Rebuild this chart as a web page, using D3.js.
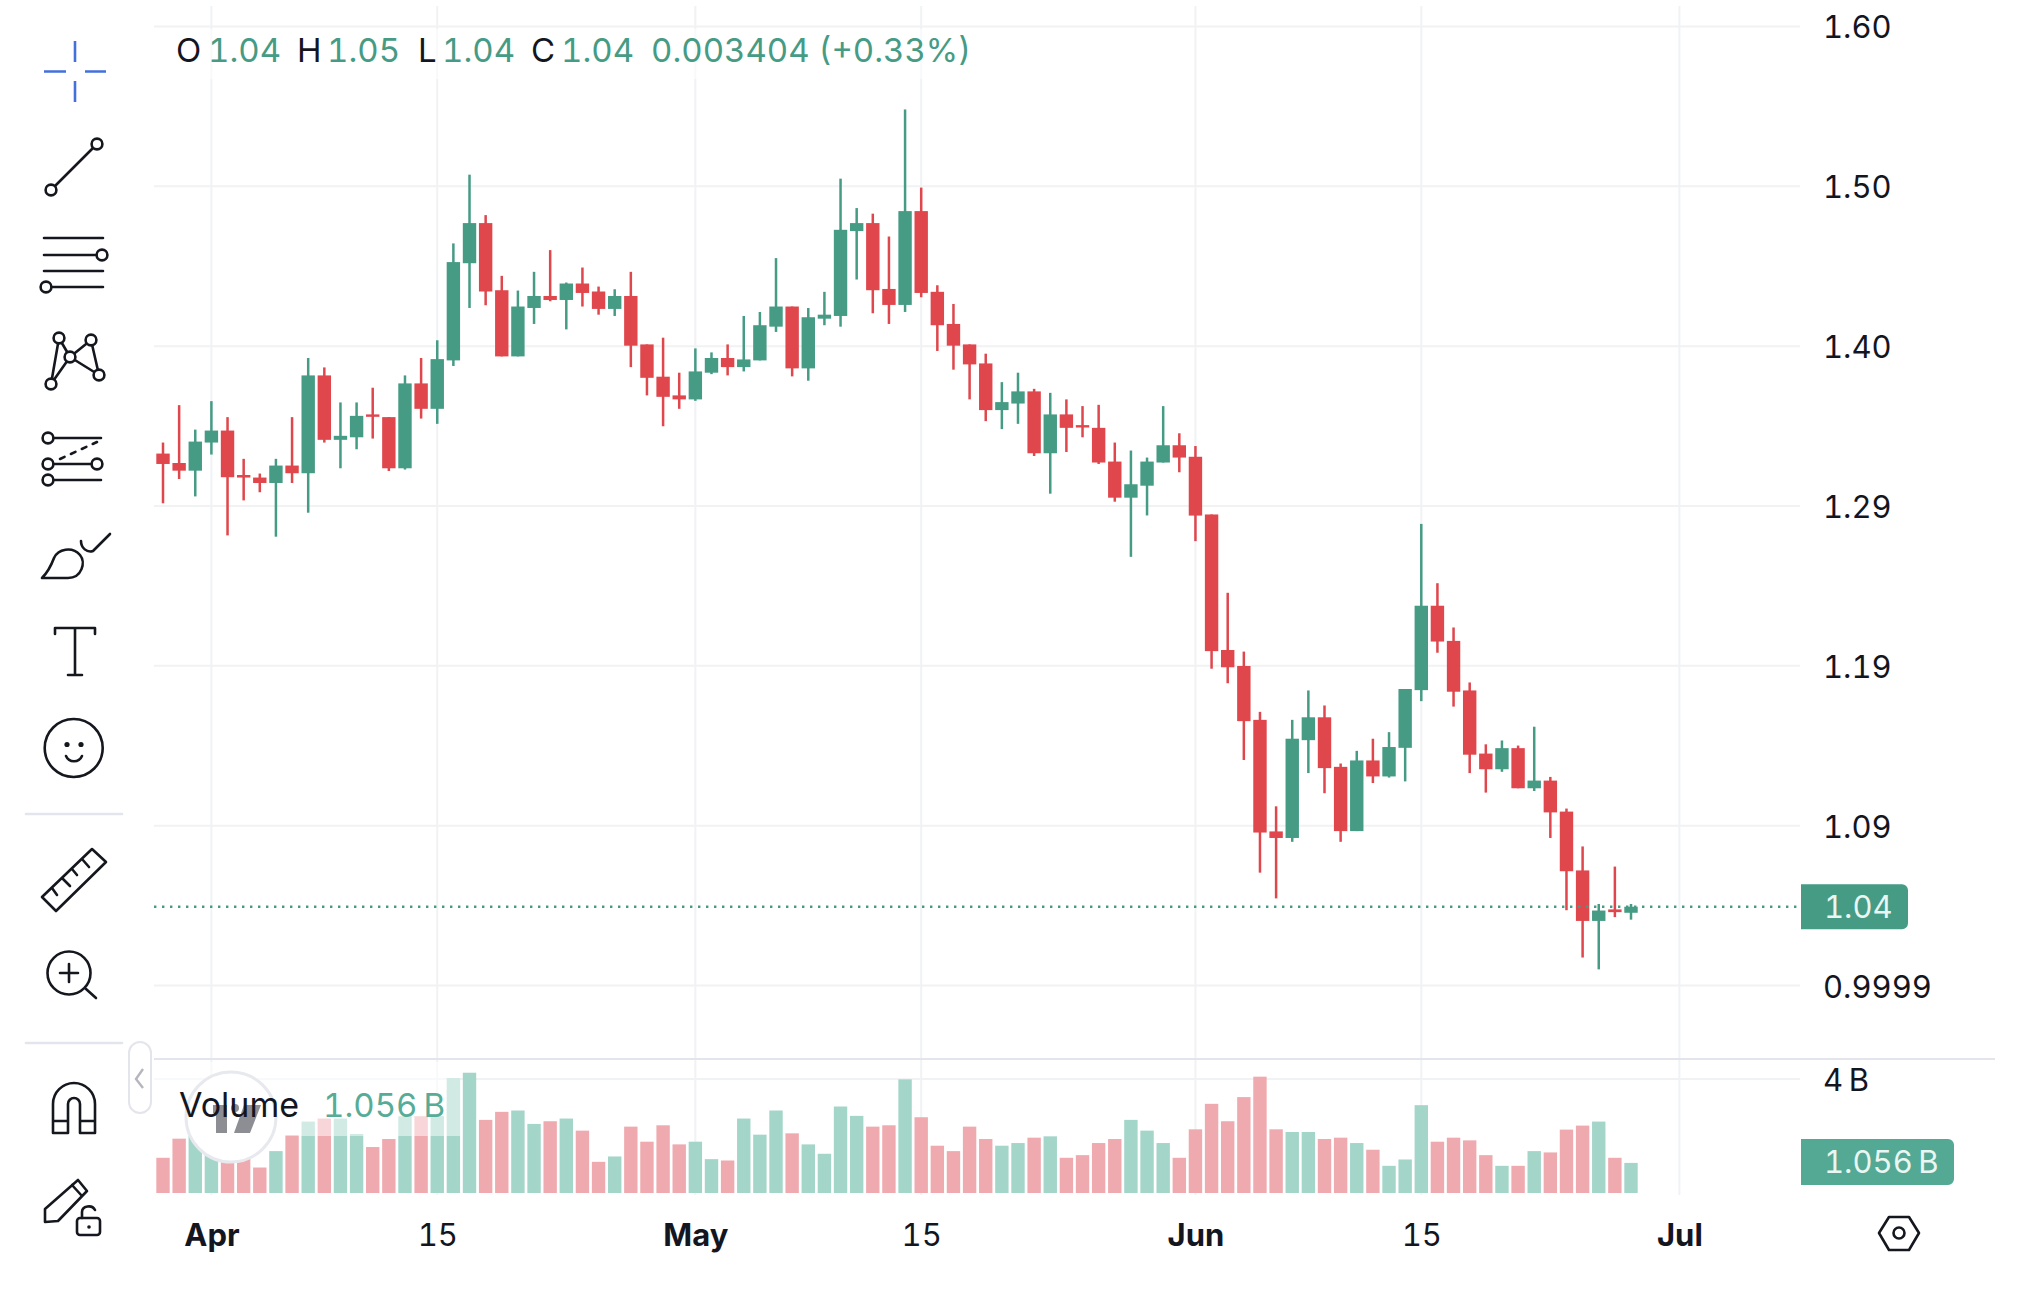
<!DOCTYPE html>
<html>
<head>
<meta charset="utf-8">
<script src="https://cdn.jsdelivr.net/npm/d3@7/dist/d3.min.js"></script>
<style>
html,body{margin:0;padding:0;background:#fff;}
svg{display:block;font-family:Inter,"Noto Sans",sans-serif;font-feature-settings:"tnum" 1;font-variant-numeric:tabular-nums;}
</style>
</head>
<body>
<svg id="chart" width="2030" height="1308"></svg>
<script>
// Daily candles from 29 March to 28 June
const firstDay = new Date(Date.UTC(2023, 2, 29));
const opens = [1.3328,1.3269,1.3221,1.3397,1.3472,1.3194,1.3178,1.3144,1.3253,1.3205,1.3817,1.3414,1.3430,1.3573,1.3556,1.3236,1.3767,1.3608,1.3911,1.4519,1.4770,1.4350,1.3936,1.4239,1.4314,1.4289,1.4392,1.4342,1.4233,1.4314,1.4011,1.3809,1.3692,1.3667,1.3834,1.3926,1.3869,1.3911,1.4122,1.4248,1.3861,1.4172,1.4189,1.4720,1.4770,1.4358,1.4258,1.4845,1.4340,1.4139,1.4011,1.3892,1.3600,1.3641,1.3717,1.3330,1.3573,1.3506,1.3489,1.3278,1.3052,1.3127,1.3272,1.3380,1.3308,1.2947,1.2099,1.1999,1.1662,1.0964,1.0923,1.1535,1.1678,1.1368,1.0966,1.1408,1.1308,1.1487,1.1848,1.2376,1.2156,1.1846,1.1451,1.1353,1.1485,1.1234,1.1282,1.1088,1.0720,1.0404,1.0476,1.0455];
const closes = [1.3263,1.3221,1.3403,1.3472,1.3180,1.3178,1.3144,1.3253,1.3205,1.3817,1.3414,1.3439,1.3564,1.3560,1.3236,1.3767,1.3608,1.3919,1.4526,1.4770,1.4342,1.3936,1.4248,1.4314,1.4289,1.4392,1.4333,1.4233,1.4314,1.4003,1.3802,1.3683,1.3667,1.3842,1.3926,1.3869,1.3917,1.4131,1.4248,1.3861,1.4181,1.4197,1.4728,1.4770,1.4350,1.4258,1.4845,1.4333,1.4131,1.4003,1.3886,1.3600,1.3650,1.3717,1.3330,1.3573,1.3489,1.3493,1.3272,1.3052,1.3136,1.3278,1.3380,1.3303,1.2940,1.2092,1.1991,1.1654,1.0957,1.0923,1.1544,1.1678,1.1360,1.0966,1.1408,1.1308,1.1492,1.1855,1.2376,1.2152,1.1838,1.1444,1.1353,1.1485,1.1234,1.1282,1.1083,1.0715,1.0404,1.0469,1.045896,1.0493];
const highs = [1.3397,1.3631,1.3478,1.3656,1.3556,1.3295,1.3203,1.3295,1.3556,1.3926,1.3867,1.3648,1.3648,1.3740,1.3556,1.3817,1.3926,1.4037,1.4643,1.5073,1.4820,1.4440,1.4348,1.4465,1.4601,1.4398,1.4492,1.4373,1.4356,1.4465,1.4011,1.4053,1.3834,1.3986,1.3961,1.4011,1.4189,1.4214,1.4551,1.4248,1.4239,1.4340,1.5048,1.4864,1.4829,1.4686,1.5481,1.4992,1.4381,1.4264,1.4011,1.3953,1.3775,1.3834,1.3733,1.3708,1.3667,1.3625,1.3633,1.3397,1.3347,1.3303,1.3625,1.3455,1.3375,1.2947,1.2457,1.2089,1.1712,1.1121,1.1662,1.1846,1.1752,1.1389,1.1468,1.1544,1.1585,1.1855,1.2888,1.2517,1.2240,1.1896,1.1509,1.1533,1.1501,1.1619,1.1305,1.1107,1.0870,1.0510,1.0744,1.0510];
const lows = [1.3017,1.3169,1.3060,1.3322,1.2816,1.3035,1.3086,1.2808,1.3144,1.2958,1.3397,1.3236,1.3355,1.3422,1.3219,1.3228,1.3547,1.3514,1.3876,1.4239,1.4256,1.3936,1.3936,1.4139,1.4281,1.4105,1.4248,1.4197,1.4189,1.3869,1.3692,1.3499,1.3608,1.3658,1.3825,1.3817,1.3842,1.3911,1.4089,1.3811,1.3784,1.4131,1.4122,1.4417,1.4206,1.4139,1.4214,1.4306,1.3970,1.3853,1.3667,1.3531,1.3481,1.3514,1.3313,1.3077,1.3338,1.3430,1.3263,1.3027,1.2682,1.2941,1.3272,1.3211,1.2780,1.1982,1.1891,1.1411,1.0706,1.0545,1.0899,1.1329,1.1203,1.0899,1.0966,1.1267,1.1301,1.1277,1.1779,1.2082,1.1745,1.1329,1.1207,1.1337,1.1234,1.1217,1.0923,1.0471,1.0175,1.0101,1.0428,1.0412];
// Traded volume per day, in billions
const volumes = [1.235,1.906,2.0,1.6,1.7,1.5,0.894,1.47,2.035,2.506,2.612,2.612,2.07,1.612,1.894,2.694,2.694,2.7,4.035,4.22,2.565,2.847,2.894,2.424,2.518,2.612,2.188,1.094,1.282,2.329,1.8,2.376,1.706,1.8,1.188,1.141,2.612,2.047,2.894,2.094,1.706,1.376,3.035,2.706,2.329,2.376,3.988,2.659,1.659,1.47,2.329,1.894,1.659,1.753,1.941,1.988,1.235,1.329,1.753,1.894,2.565,2.188,1.753,1.235,2.235,3.129,2.518,3.365,4.082,2.235,2.141,2.141,1.894,1.941,1.753,1.518,0.953,1.176,3.082,1.8,1.941,1.847,1.329,0.953,0.953,1.47,1.424,2.224,2.365,2.506,1.235,1.056];
// Price axis: ticks and the way the feed prints them
const priceTicks = [0.9999,1.0999,1.1999,1.2999,1.40,1.50,1.60];
const priceTickLabels = ["0.9999","1.09","1.19","1.29","1.40","1.50","1.60"];
// Date axis
const dateTicks = [new Date(Date.UTC(2023,3,1)),new Date(Date.UTC(2023,3,15)),new Date(Date.UTC(2023,4,1)),new Date(Date.UTC(2023,4,15)),new Date(Date.UTC(2023,5,1)),new Date(Date.UTC(2023,5,15)),new Date(Date.UTC(2023,6,1))];
const dateTickLabels = ["Apr","15","May","15","Jun","15","Jul"];
const volumeTicks = [4];
const volumeTickLabels = ["4\u2009B"];

const GREEN = "#469b85", RED = "#df474d", GRID = "#f1f2f4", RULE = "#e4e5ec", INK = "#14161f";
const trunc2 = v => (Math.floor(v * 100) / 100).toFixed(2);
const fmtVol = v => v.toFixed(3) + "\u2009B";
const last = opens.length - 1;
const candles = opens.map((o, i) => ({
  date: d3.utcDay.offset(firstDay, i), o, c: closes[i], h: highs[i], l: lows[i], v: volumes[i], up: closes[i] >= o
}));

const svg = d3.select("#chart");
const x = d3.scaleUtc().domain([dateTicks[0], dateTicks[6]]).range([211.4, 1679.4]);
const y = d3.scaleLinear().domain([1.0, 1.6]).range([985.5, 26.5]);
const yVol = d3.scaleLinear().domain([0, 4]).range([1193, 1079]);
const bodyW = 13.4, wickW = 2.5, volW = 13.4;

// Grid
const grid = svg.append("g").attr("stroke", GRID).attr("stroke-width", 2);
grid.selectAll(".v").data(dateTicks).join("line")
  .attr("x1", d => x(d)).attr("x2", d => x(d)).attr("y1", 6).attr("y2", 1195);
grid.selectAll(".h").data([1.0,1.1,1.2,1.3,1.4,1.5,1.6]).join("line")
  .attr("x1", 154).attr("x2", 1800).attr("y1", d => y(d)).attr("y2", d => y(d));
grid.append("line").attr("x1", 154).attr("x2", 1800).attr("y1", yVol(4)).attr("y2", yVol(4));
svg.append("line").attr("x1", 154).attr("x2", 1995).attr("y1", 1059).attr("y2", 1059)
  .attr("stroke", RULE).attr("stroke-width", 2);

// Volume histogram
svg.append("g").selectAll("rect").data(candles).join("rect")
  .attr("x", d => x(d.date) - volW / 2).attr("width", volW)
  .attr("y", d => yVol(d.v)).attr("height", d => yVol(0) - yVol(d.v))
  .attr("fill", d => d.up ? "#a2d4c8" : "#efa8ae").attr("opacity", 0.98);

// Candles
const candle = svg.append("g").selectAll("g").data(candles).join("g");
candle.append("rect")
  .attr("x", d => x(d.date) - wickW / 2).attr("width", wickW)
  .attr("y", d => y(d.h)).attr("height", d => y(d.l) - y(d.h))
  .attr("fill", d => d.up ? GREEN : RED);
candle.append("rect")
  .attr("x", d => x(d.date) - bodyW / 2).attr("width", bodyW)
  .attr("y", d => y(Math.max(d.o, d.c)))
  .attr("height", d => Math.max(2.4, Math.abs(y(d.o) - y(d.c))))
  .attr("fill", d => d.up ? GREEN : RED);

// Last price line
svg.append("line").attr("x1", 154).attr("x2", 1800)
  .attr("y1", y(closes[last])).attr("y2", y(closes[last]))
  .attr("stroke", GREEN).attr("stroke-width", 2.4).attr("stroke-dasharray", "2.4 5.6");

// Axes
const styleAxis = g => {
  g.select(".domain").remove();
  g.selectAll("text").attr("font-family", "Inter").attr("font-size", 31).attr("fill", INK);
};
svg.append("g").attr("transform", "translate(1800,1.5)")
  .call(d3.axisRight(y).tickValues(priceTicks).tickSize(0).tickPadding(23)
    .tickFormat((d, i) => priceTickLabels[i])).call(styleAxis);
svg.append("g").attr("transform", "translate(1800,1.5)")
  .call(d3.axisRight(yVol).tickValues(volumeTicks).tickSize(0).tickPadding(23)
    .tickFormat((d, i) => volumeTickLabels[i])).call(styleAxis);
svg.append("g").attr("transform", "translate(0,1223.5)")
  .call(d3.axisBottom(x).tickValues(dateTicks).tickSize(0).tickPadding(0)
    .tickFormat((d, i) => dateTickLabels[i])).call(styleAxis)
  .selectAll("text").attr("font-weight", (d, i) => i % 2 ? 400 : 700);

// Value tags on the axis
function tag(yc, h, w, fill, label) {
  svg.append("path")
    .attr("d", `M1801,${yc - h / 2}H${1801 + w - 6}a6,6 0 0 1 6,6V${yc + h / 2 - 6}a6,6 0 0 1 -6,6H1801Z`)
    .attr("fill", fill);
  svg.append("text").attr("x", 1824).attr("y", yc).attr("dy", "0.36em")
    .attr("font-size", 31).attr("fill", "#e9f6f2").text(label);
}
tag(y(closes[last]), 45, 107, GREEN, trunc2(closes[last]));
tag(yVol(volumes[last]) - 1, 46, 153, "#53a994", fmtVol(volumes[last]));

// Volume pane legend, on a veil over the bars, and the logo badge behind its text
svg.append("rect").attr("x", 154).attr("y", 1062).attr("width", 306).attr("height", 74)
  .attr("fill", "#fff").attr("opacity", 0.5);
svg.append("circle").attr("cx", 231).attr("cy", 1117).attr("r", 45)
  .attr("fill", "#fff").attr("stroke", "#e8e9ee").attr("stroke-width", 3);
svg.append("path").attr("d", "M213,1105H227V1133H216V1113H213Z").attr("fill", "#8d8e93");
svg.append("circle").attr("cx", 235).attr("cy", 1108).attr("r", 4).attr("fill", "#8d8e93");
svg.append("path").attr("d", "M244,1105H261L250,1133H234Z").attr("fill", "#8d8e93");
svg.append("text").attr("x", 179).attr("y", 1116.5).attr("font-size", 34).attr("fill", INK).text("Volume");
svg.append("text").attr("x", 323).attr("y", 1116.5).attr("font-size", 33).attr("fill", "#56ac97")
  .text(fmtVol(volumes[last]));

// OHLC legend
svg.append("rect").attr("x", 154).attr("y", 29).attr("width", 840).attr("height", 50)
  .attr("fill", "#fff").attr("opacity", 0.5);
const lastBar = candles[last];
const change = lastBar.c - candles[last - 1].c;
const pct = change / candles[last - 1].c * 100;
const legend = [
  ["O", 176, INK], [trunc2(lastBar.o), 208, GREEN],
  ["H", 297, INK], [trunc2(lastBar.h), 327, GREEN],
  ["L", 418, INK], [trunc2(lastBar.l), 442, GREEN],
  ["C", 531, INK], [trunc2(lastBar.c), 561, GREEN],
  [`${change.toFixed(6)} (+${pct.toFixed(2)}%)`, 651, GREEN]
];
svg.append("g").selectAll("text").data(legend).join("text")
  .attr("x", d => d[1]).attr("y", 62).attr("font-size", 33).attr("fill", d => d[2]).text(d => d[0]);

// Drawing tools column
const tools = svg.append("g").attr("fill", "none").attr("stroke", "#15171f")
  .attr("stroke-width", 2.6).attr("stroke-linecap", "round").attr("stroke-linejoin", "round");
const node = (cx, cy) => tools.append("circle").attr("cx", cx).attr("cy", cy).attr("r", 5.4).attr("fill", "#fff");
const stroke = d => tools.append("path").attr("d", d);

stroke("M44,71.5H66M85,71.5H106M75,41V62M75,81V102").attr("stroke", "#4470dc").attr("stroke-linecap", "butt");
stroke("M51,190L97,144"); node(51, 190); node(97, 144);
stroke("M44,238H103M44,255H103M44,271H103M46,287H103"); node(102, 255); node(46, 287);
stroke("M59,338L51,384L70,357L59,338M70,357L91,340L99,375L70,357"); [[59,338],[91,340],[70,357],[99,375],[51,384]].forEach(p => node(p[0], p[1]));
stroke("M48,438H101M48,464H97M48,480H101"); stroke("M60,459L97,442").attr("stroke-dasharray", "5 7");
[[48,438],[48,464],[97,464],[48,480]].forEach(p => node(p[0], p[1]));
stroke("M42,578H68C82,578 86,562 80,555C72,546 58,549 54,558C51,566 48,572 42,578Z");
stroke("M81,541C81,548 87,553 93,551L110,534");
stroke("M55,634V628H95V634M75,628V675M68,675H82");
tools.append("circle").attr("cx", 73.7).attr("cy", 748).attr("r", 29);
tools.append("circle").attr("cx", 67).attr("cy", 744.5).attr("r", 2.6).attr("fill", "#15171f").attr("stroke", "none");
tools.append("circle").attr("cx", 81).attr("cy", 744.5).attr("r", 2.6).attr("fill", "#15171f").attr("stroke", "none");
stroke("M66,756C69,763 79,763 82,756");
tools.append("line").attr("x1", 26).attr("x2", 122).attr("y1", 814).attr("y2", 814).attr("stroke", RULE);
stroke("M42,897L92,849L106,862L56,911ZM52,888L57,895M62,878L70,886M72,869L77,875M82,859L89,867");
tools.append("circle").attr("cx", 69).attr("cy", 973).attr("r", 21.5);
stroke("M60,973H78M69,964V982M86,989L96,998");
tools.append("line").attr("x1", 26).attr("x2", 122).attr("y1", 1043).attr("y2", 1043).attr("stroke", RULE);
stroke("M53,1133V1104A21,21 0 0 1 95,1104V1133H80V1104A6,6 0 0 0 68,1104V1133ZM53,1121H68M80,1121H95");
stroke("M45,1209L78,1180L87,1191L58,1221L45,1222ZM72,1185L82,1196");
tools.append("rect").attr("x", 77).attr("y", 1218).attr("width", 23).attr("height", 17).attr("rx", 3);
stroke("M82,1218V1212C82,1206 92,1204 95,1210");
tools.append("circle").attr("cx", 89).attr("cy", 1227).attr("r", 1.8).attr("fill", "#15171f").attr("stroke", "none");

// Collapse handle
svg.append("rect").attr("x", 129).attr("y", 1042).attr("width", 22).attr("height", 71).attr("rx", 11)
  .attr("fill", "#fff").attr("stroke", RULE).attr("stroke-width", 2);
svg.append("path").attr("d", "M143,1069L136,1079L143,1088").attr("fill", "none").attr("stroke", "#b5b7bd").attr("stroke-width", 2.4);

// Settings hexagon
svg.append("path").attr("d", "M1879,1233L1889,1217H1909L1919,1233L1909,1250H1889Z")
  .attr("fill", "none").attr("stroke", "#15171f").attr("stroke-width", 2.6).attr("stroke-linejoin", "round");
svg.append("circle").attr("cx", 1899).attr("cy", 1233).attr("r", 5.5)
  .attr("fill", "none").attr("stroke", "#15171f").attr("stroke-width", 2.6);
</script>
</body>
</html>
